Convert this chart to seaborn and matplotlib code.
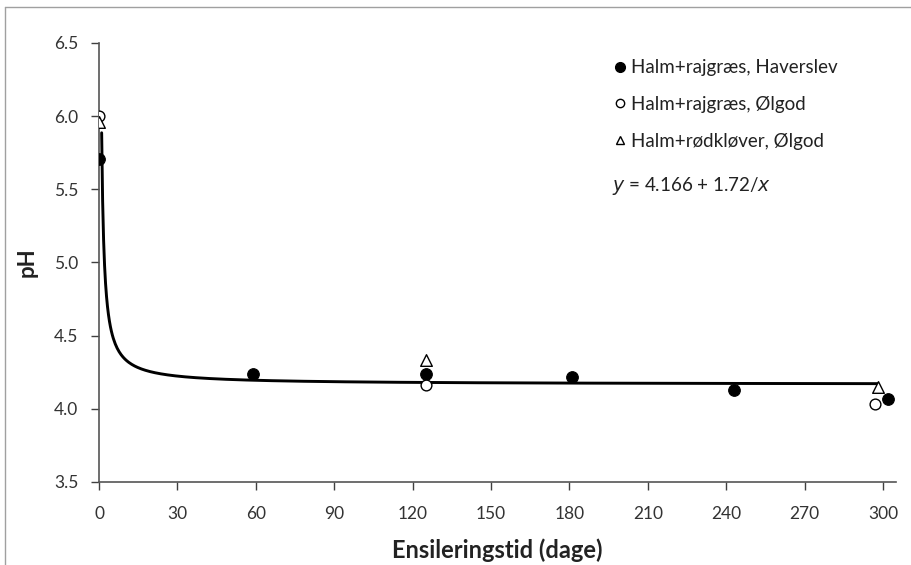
import numpy as np
import pandas as pd
import matplotlib
matplotlib.use("Agg")
import matplotlib.pyplot as plt
import seaborn as sns
from matplotlib.lines import Line2D

# Data
haverslev_x = [0, 59, 125, 181, 243, 302]
haverslev_y = [5.71, 4.24, 4.24, 4.22, 4.13, 4.07]
olgod_rg_x = [0, 125, 297]
olgod_rg_y = [6.00, 4.16, 4.03]
olgod_rk_x = [0, 125, 298]
olgod_rk_y = [5.96, 4.33, 4.15]

series_labels = ["Halm+rajgræs, Haverslev", "Halm+rajgræs, Ølgod", "Halm+rødkløver, Ølgod"]
fit_a = 4.166
fit_b = 1.72
fit_x_range = (1.0, 298.0)
x_ticks = [0, 30, 60, 90, 120, 150, 180, 210, 240, 270, 300]
y_ticks = [3.5, 4.0, 4.5, 5.0, 5.5, 6.0, 6.5]

sns.set_theme(style="white")
plt.rcParams['font.family'] = ['Lato', 'DejaVu Sans']

fig = plt.figure(figsize=(9.12, 5.65), dpi=100)
ax = fig.add_axes([0.1086, 0.147, 0.874, 0.777])

# fitted curve y = a + b/x
xs = np.linspace(fit_x_range[0], fit_x_range[1], 800)
fit_df = pd.DataFrame({"x": xs, "y": fit_a + fit_b / xs})
sns.lineplot(data=fit_df, x="x", y="y", ax=ax, color="black", linewidth=2.1,
             zorder=2, estimator=None, sort=False)

d1 = pd.DataFrame({"x": haverslev_x, "y": haverslev_y})
d2 = pd.DataFrame({"x": olgod_rg_x, "y": olgod_rg_y})
d3 = pd.DataFrame({"x": olgod_rk_x, "y": olgod_rk_y})
sns.scatterplot(data=d1, x="x", y="y", ax=ax, marker="o", s=70, color="black",
                edgecolor="black", linewidth=0.8, zorder=4)
sns.scatterplot(data=d2, x="x", y="y", ax=ax, marker="o", s=60, color="white",
                edgecolor="black", linewidth=1.0, zorder=4)
sns.scatterplot(data=d3, x="x", y="y", ax=ax, marker="^", s=70, color="white",
                edgecolor="black", linewidth=1.0, zorder=4)

ax.set_xlim(0, 305)
ax.set_ylim(3.5, 6.5)
ax.set_xticks(x_ticks)
ax.set_yticks(y_ticks)
ax.set_yticklabels([f"{v:.1f}" for v in y_ticks])
ax.tick_params(axis="both", which="major", direction="out", length=6, width=1,
               colors="#404040", labelsize=12.5, bottom=True, left=True)
ax.tick_params(axis="x", pad=11)
ax.tick_params(axis="y", pad=9)
ax.tick_params(axis="both", labelcolor="#333333")
for s in ["top", "right"]:
    ax.spines[s].set_visible(False)
for s in ["left", "bottom"]:
    ax.spines[s].set_color("#555555")
    ax.spines[s].set_linewidth(1.2)

ax.set_xlabel("Ensileringstid (dage)", fontsize=17, fontweight="bold", color="#222222", labelpad=12)
ax.set_ylabel("pH", fontsize=16, fontweight="bold", color="#222222", labelpad=12)

handles = [
    Line2D([], [], linestyle="none", marker="o", markersize=7, markerfacecolor="black", markeredgecolor="black"),
    Line2D([], [], linestyle="none", marker="o", markersize=6, markerfacecolor="white", markeredgecolor="black"),
    Line2D([], [], linestyle="none", marker="^", markersize=6, markerfacecolor="white", markeredgecolor="black"),
]
leg = ax.legend(handles, series_labels, loc="upper left", bbox_to_anchor=(0.628, 0.997),
                frameon=False, fontsize=13.5, handlelength=0.6, handletextpad=0.25,
                labelspacing=1.05, borderpad=0.3)
for t in leg.get_texts():
    t.set_color("#222222")

ax.text(0.644, 0.673, r"$\mathit{y}$ = 4.166 + 1.72/$\mathit{x}$", transform=ax.transAxes,
        fontsize=13.5, color="#222222", ha="left", va="center")

# outer frame (top and left edges only visible in the reference crop)
fig.add_artist(Line2D([0.006, 1.0], [0.988, 0.988], transform=fig.transFigure,
                      color="#a0a0a0", linewidth=1.0))
fig.add_artist(Line2D([0.006, 0.006], [0.0, 0.988], transform=fig.transFigure,
                      color="#a0a0a0", linewidth=1.0))

fig.savefig("out.png", dpi=100)
